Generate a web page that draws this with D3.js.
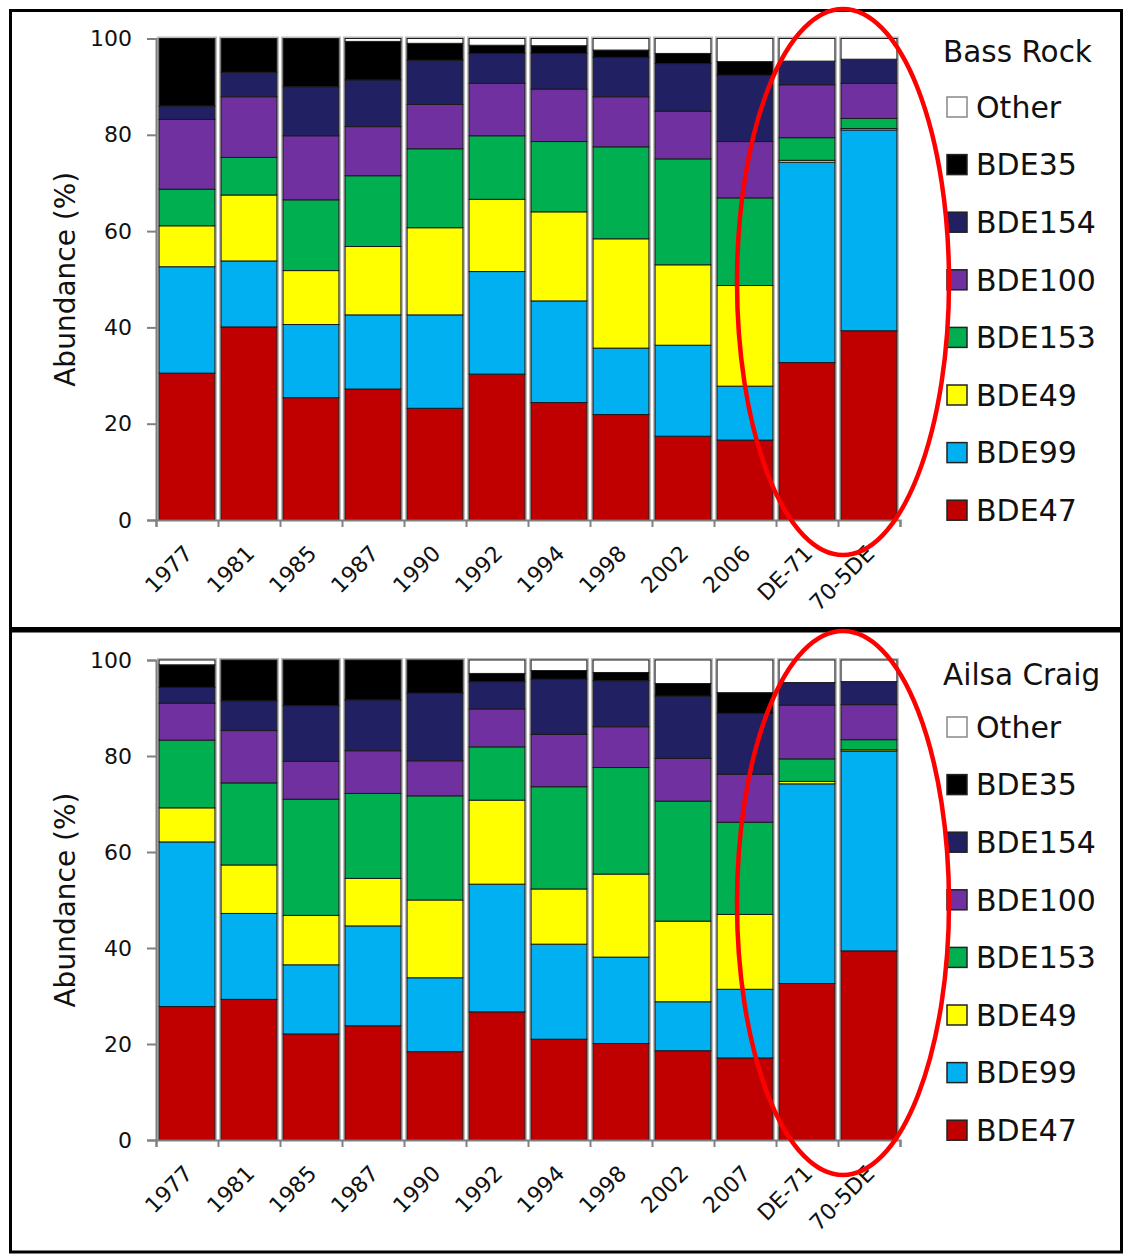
<!DOCTYPE html>
<html>
<head>
<meta charset="utf-8">
<script src="https://cdn.jsdelivr.net/npm/d3@7"></script>
<style>
  html, body { margin: 0; padding: 0; background: #fff; }
  svg { display: block; }
  text { font-family: "DejaVu Sans", Verdana, sans-serif; fill: #111; }
</style>
</head>
<body>
<svg id="chart" width="1126" height="1254"></svg>
<script>
// ---------- DATA ----------
const seriesNames = ["BDE47", "BDE99", "BDE49", "BDE153", "BDE100", "BDE154", "BDE35", "Other"];
const seriesColors = ["#C00000", "#00B0F0", "#FFFF00", "#00B050", "#7030A0", "#202062", "#000000", "#FFFFFF"];
const legendOrder = ["Other", "BDE35", "BDE154", "BDE100", "BDE153", "BDE49", "BDE99", "BDE47"];
const yTicks = [0, 20, 40, 60, 80, 100];

const bassCategories = ["1977", "1981", "1985", "1987", "1990", "1992", "1994", "1998", "2002", "2006", "DE-71", "70-5DE"];
const bassBDE47  = [30.5, 40.1, 25.4, 27.2, 23.2, 30.3, 24.4, 21.9, 17.4, 16.6, 32.7, 39.3];
const bassBDE99  = [22.1, 13.7, 15.2, 15.4, 19.4, 21.3, 21.1, 13.8, 18.9, 11.2, 41.6, 41.7];
const bassBDE49  = [8.5, 13.7, 11.2, 14.2, 18.1, 15.0, 18.5, 22.7, 16.7, 20.9, 0.4, 0.3];
const bassBDE153 = [7.6, 7.8, 14.7, 14.7, 16.4, 13.2, 14.6, 19.1, 22.0, 18.2, 4.7, 2.1];
const bassBDE100 = [14.5, 12.6, 13.3, 10.2, 9.2, 10.9, 10.9, 10.4, 9.9, 11.7, 11.0, 7.3];
const bassBDE154 = [2.8, 5.1, 10.2, 9.7, 9.2, 6.2, 7.4, 8.2, 9.9, 13.8, 4.9, 5.0];
const bassBDE35  = [14.0, 7.0, 10.0, 8.0, 3.5, 1.7, 1.6, 1.5, 2.1, 2.8, 0, 0];
const bassOther  = [0, 0, 0, 0.6, 1.0, 1.4, 1.5, 2.4, 3.1, 4.8, 4.7, 4.3];

const ailsaCategories = ["1977", "1981", "1985", "1987", "1990", "1992", "1994", "1998", "2002", "2007", "DE-71", "70-5DE"];
const ailsaBDE47  = [27.8, 29.3, 22.1, 23.8, 18.4, 26.7, 21.0, 20.1, 18.6, 17.1, 32.6, 39.4];
const ailsaBDE99  = [34.3, 17.9, 14.4, 20.8, 15.4, 26.6, 19.8, 18.0, 10.2, 14.3, 41.6, 41.6];
const ailsaBDE49  = [7.1, 10.1, 10.3, 9.9, 16.2, 17.5, 11.5, 17.3, 16.8, 15.6, 0.5, 0.3];
const ailsaBDE153 = [14.1, 17.1, 24.2, 17.7, 21.7, 11.1, 21.3, 22.2, 25.0, 19.2, 4.7, 2.1];
const ailsaBDE100 = [7.7, 10.9, 7.9, 8.9, 7.3, 7.9, 10.9, 8.5, 8.9, 10.0, 11.2, 7.3];
const ailsaBDE154 = [3.3, 6.2, 11.6, 10.6, 14.1, 5.7, 11.5, 9.6, 13.0, 12.7, 4.7, 4.8];
const ailsaBDE35  = [4.7, 8.5, 9.5, 8.3, 6.9, 1.7, 1.8, 1.7, 2.6, 4.3, 0, 0];
const ailsaOther  = [1.0, 0, 0, 0, 0, 2.8, 2.2, 2.6, 4.9, 6.8, 4.7, 4.5];

// ---------- BUILD ----------
const svg = d3.select("#chart");
const color = d3.scaleOrdinal().domain(seriesNames).range(seriesColors);

function buildRows(categories, cols) {
  return categories.map((c, i) => {
    const row = { cat: c };
    seriesNames.forEach((s, k) => { row[s] = cols[k][i]; });
    return row;
  });
}

const panels = [
  { title: "Bass Rock", categories: bassCategories,
    cols: [bassBDE47, bassBDE99, bassBDE49, bassBDE153, bassBDE100, bassBDE154, bassBDE35, bassOther],
    frame: [10.5, 10.5, 1111, 618], y0: 520, y100: 38.5, titleY: 62, legendY: 107,
    ellipse: [843, 282, 106, 273] },
  { title: "Ailsa Craig", categories: ailsaCategories,
    cols: [ailsaBDE47, ailsaBDE99, ailsaBDE49, ailsaBDE153, ailsaBDE100, ailsaBDE154, ailsaBDE35, ailsaOther],
    frame: [10.5, 631, 1111, 621], y0: 1140, y100: 660, titleY: 685, legendY: 727,
    ellipse: [843, 903, 106, 272] }
];

const xLeft = 156, xRight = 900;

panels.forEach(p => {
  const g = svg.append("g");
  const rows = buildRows(p.categories, p.cols);
  const stacked = d3.stack().keys(seriesNames)(rows);

  const x = d3.scaleBand().domain(p.categories).range([xLeft, xRight]).paddingInner(0.1).paddingOuter(0.05);
  const y = d3.scaleLinear().domain([0, 100]).range([p.y0, p.y100]);
  const xb = d3.scaleLinear().domain([0, p.categories.length]).range([xLeft, xRight]);

  // frame
  g.append("rect").attr("x", p.frame[0]).attr("y", p.frame[1])
    .attr("width", p.frame[2]).attr("height", p.frame[3])
    .attr("fill", "none").attr("stroke", "#000").attr("stroke-width", 3);

  // bar halo
  g.append("g").selectAll("rect").data(rows).join("rect")
    .attr("x", d => x(d.cat) - 1).attr("y", y(100) - 1)
    .attr("width", x.bandwidth() + 2).attr("height", y(0) - y(100) + 1)
    .attr("fill", "#fff").attr("stroke", "#b8b8b8").attr("stroke-width", 2);

  // stacked segments
  g.append("g").selectAll("g").data(stacked).join("g")
    .attr("fill", d => color(d.key))
    .selectAll("rect").data(d => d.filter(s => s[1] - s[0] > 0)).join("rect")
    .attr("x", d => x(d.data.cat))
    .attr("y", d => y(d[1]))
    .attr("width", x.bandwidth())
    .attr("height", d => y(d[0]) - y(d[1]))
    .attr("stroke", "#1a1a1a").attr("stroke-width", 1);

  // y axis
  const yAxis = g.append("g").attr("transform", `translate(${xLeft},0)`)
    .call(d3.axisLeft(y).tickValues(yTicks).tickSize(9).tickPadding(15));
  yAxis.selectAll("text").style("font-size", "22px").attr("fill", "#111")
    .style("font-family", "'DejaVu Sans', Verdana, sans-serif");
  yAxis.select(".domain").attr("stroke", "#808080").attr("stroke-width", 2);
  yAxis.selectAll(".tick line").attr("stroke", "#808080").attr("stroke-width", 2);

  // x axis (boundary ticks)
  const xAxis = g.append("g").attr("transform", `translate(0,${p.y0})`)
    .call(d3.axisBottom(xb).tickValues(d3.range(p.categories.length + 1)).tickSize(7).tickFormat(""));
  xAxis.select(".domain").attr("stroke", "#808080").attr("stroke-width", 2);
  xAxis.selectAll(".tick line").attr("stroke", "#808080").attr("stroke-width", 2);

  // x labels, rotated
  g.append("g").selectAll("text").data(p.categories).join("text")
    .attr("transform", d => `translate(${x(d) + x.bandwidth() / 2 - 4},${p.y0 + 24}) rotate(-45)`)
    .attr("text-anchor", "end")
    .attr("dy", "0.7em")
    .style("font-size", "22px")
    .text(d => d);

  // y label
  g.append("text")
    .attr("transform", `translate(75,${(p.y0 + p.y100) / 2}) rotate(-90)`)
    .attr("text-anchor", "middle")
    .style("font-size", "28px")
    .text("Abundance (%)");

  // legend
  const lg = g.append("g");
  lg.append("text").attr("x", 943).attr("y", p.titleY)
    .style("font-size", "29.5px").text(p.title);
  const items = lg.selectAll("g.item").data(legendOrder).join("g").attr("class", "item")
    .attr("transform", (d, i) => `translate(947,${p.legendY + i * 57.6})`);
  items.append("rect").attr("x", 0).attr("y", -10).attr("width", 20).attr("height", 20)
    .attr("fill", d => color(d))
    .attr("stroke", d => d === "Other" ? "#888" : "#222").attr("stroke-width", 1.5);
  items.append("text").attr("x", 29).attr("y", 0).attr("dy", "0.36em")
    .style("font-size", "30px").text(d => d);

  // red highlight ellipse
  g.append("ellipse").attr("cx", p.ellipse[0]).attr("cy", p.ellipse[1])
    .attr("rx", p.ellipse[2]).attr("ry", p.ellipse[3])
    .attr("fill", "none").attr("stroke", "#ff0000").attr("stroke-width", 4.5);
});
</script>
</body>
</html>
